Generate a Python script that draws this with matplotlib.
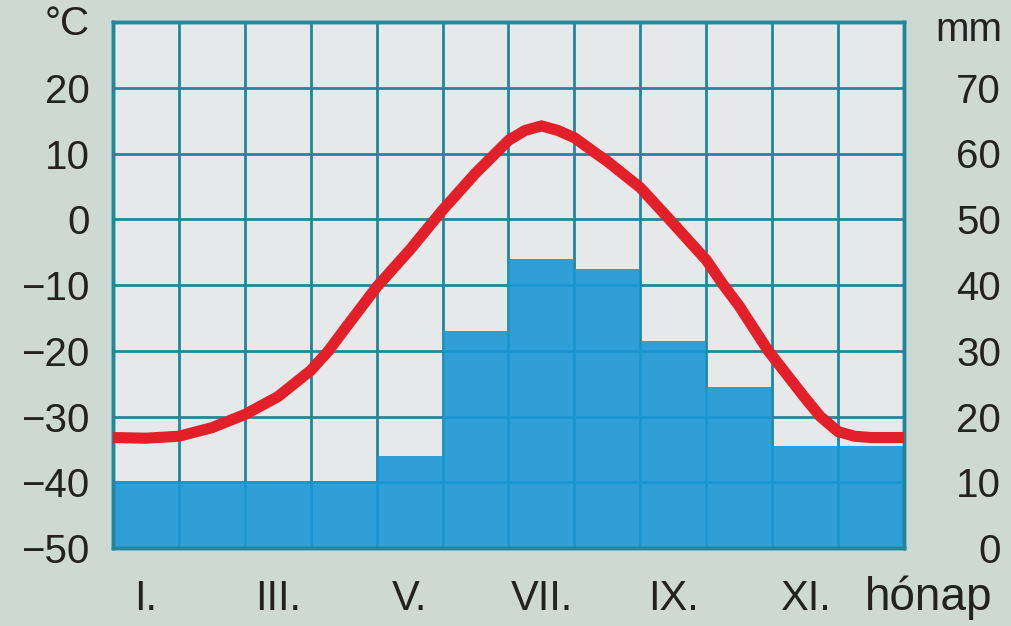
import numpy as np
import matplotlib
matplotlib.use("Agg")
import matplotlib.pyplot as plt

# monthly precipitation (mm), one bar per month
precip = [10, 10, 10, 10, 14, 33, 44, 42.5, 31.5, 24.5, 15.5, 15.5]

# temperature curve (x in months, 0 = start of I.)
temp_x = [0.0, 0.5, 1.0, 1.5, 2.0, 2.5, 3.0, 3.27, 3.5, 4.0, 4.5, 5.0, 5.5,
          6.0, 6.25, 6.5, 6.75, 7.0, 7.33, 7.5, 8.0, 8.44, 9.0, 9.26, 9.5,
          9.94, 10.5, 10.73, 11.0, 11.25, 11.5, 12.0]
temp_c = [-33.2, -33.3, -33.0, -31.7, -29.7, -27.0, -23.0, -20.0, -16.9,
          -10.3, -4.7, 1.4, 7.0, 12.0, 13.5, 14.2, 13.5, 12.4, 10.0, 8.8,
          4.8, 0.0, -6.2, -10.0, -13.2, -20.0, -27.2, -30.0, -32.3, -33.0,
          -33.2, -33.2]

month_labels = ["I.", "III.", "V.", "VII.", "IX.", "XI."]
temp_ticks = [-50, -40, -30, -20, -10, 0, 10, 20]
mm_ticks = [0, 10, 20, 30, 40, 50, 60, 70]

bg = "#cdd9d2"
plot_bg = "#e5e9ea"
grid_c = "#23879b"
bar_c = "#1b97d7"
red = "#e3202a"
txt = "#222222"
font = "Liberation Sans"

fig = plt.figure(figsize=(10.11, 6.26), dpi=100, facecolor=bg)
ax = fig.add_axes([113 / 1011, 78 / 626, 791 / 1011, 526 / 626])
ax.set_facecolor(plot_bg)

# precipitation bars on the main axis (mm, labels on the right)
months = np.arange(12) + 0.5
ax.bar(months, precip, width=1.0, color=bar_c, alpha=0.9, zorder=2, linewidth=0)
ax.set_xlim(0, 12)
ax.set_ylim(0, 80)
ax.set_xticks(np.arange(0, 13), minor=True)
ax.set_yticks(mm_ticks)
ax.grid(axis="x", which="minor", color=grid_c, linewidth=2.0, zorder=1)
ax.grid(axis="y", which="major", color=grid_c, linewidth=2.0, zorder=1)
ax.set_axisbelow(True)
ax.set_xticks(months[::2])
ax.set_xticklabels(month_labels)
ax.tick_params(axis="x", which="both", length=0, pad=22, labelsize=30, labelcolor=txt)

# temperature on a twin axis so the curve sits above the bars
axt = ax.twinx()
axt.set_ylim(-50, 30)
axt.yaxis.tick_left()
axt.set_yticks(temp_ticks)
axt.set_yticklabels([str(v).replace("-", "\u2212") for v in temp_ticks])
axt.tick_params(axis="y", length=0, pad=17, labelsize=29, labelcolor=txt)
axt.plot(temp_x, temp_c, color=red, linewidth=8, solid_capstyle="round",
         solid_joinstyle="round", zorder=5)

# twinx puts the main axis ticks on the left, so move them back
ax.yaxis.tick_right()
ax.set_yticklabels([str(v) for v in mm_ticks], ha="right")
ax.tick_params(axis="y", which="both", length=0, pad=70, labelsize=29, labelcolor=txt)

for lab in ax.get_xticklabels() + ax.get_yticklabels() + axt.get_yticklabels():
    lab.set_fontfamily(font)

for a in (ax, axt):
    for s in a.spines.values():
        s.set_color(grid_c)
        s.set_linewidth(2.5)

fig.text(90 / 1011, 1 - 24 / 626, "°C", ha="right", va="center",
         fontsize=29, color=txt, family=font)
fig.text(1002 / 1011, 1 - 30 / 626, "mm", ha="right", va="center",
         fontsize=29, color=txt, family=font)
fig.text(929 / 1011, 1 - 598 / 626, "hónap", ha="center", va="center",
         fontsize=33, color=txt, family=font)

fig.savefig("out.png", dpi=100, facecolor=bg)
